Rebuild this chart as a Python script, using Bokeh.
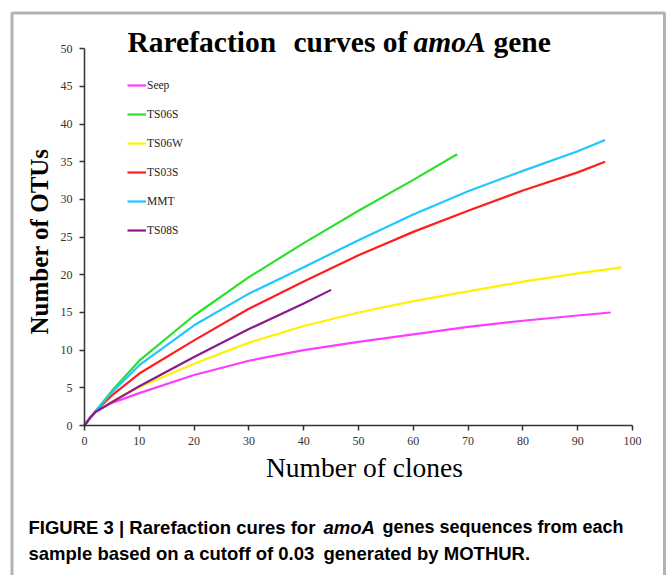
from bokeh.plotting import figure
from bokeh.models import (Range1d, FixedTicker, Label, Legend, LegendItem,
                          BoxAnnotation)
from bokeh.embed import file_html
from bokeh.resources import INLINE

# ---------------- data ----------------
x_ticks = [0, 10, 20, 30, 40, 50, 60, 70, 80, 90, 100]
y_ticks = [0, 5, 10, 15, 20, 25, 30, 35, 40, 45, 50]

seep_x = [0, 1, 2, 5, 10, 20, 30, 40, 50, 60, 70, 80, 90, 96]
seep_y = [0, 1, 1.8, 3.0, 4.3, 6.7, 8.6, 10.0, 11.1, 12.1, 13.1, 13.9, 14.6, 15.0]

ts06s_x = [0, 1, 2, 5, 10, 20, 30, 40, 50, 60, 68]
ts06s_y = [0, 1, 1.9, 4.6, 8.6, 14.6, 19.7, 24.2, 28.5, 32.6, 36.0]

ts06w_x = [0, 1, 2, 5, 10, 20, 30, 40, 50, 60, 70, 80, 90, 98]
ts06w_y = [0, 1, 1.8, 3.2, 5.1, 8.2, 11.0, 13.2, 15.0, 16.5, 17.8, 19.1, 20.2, 21.0]

ts03s_x = [0, 1, 2, 5, 10, 20, 30, 40, 50, 60, 70, 80, 90, 95]
ts03s_y = [0, 1, 1.9, 4.0, 6.9, 11.3, 15.5, 19.1, 22.6, 25.7, 28.5, 31.2, 33.6, 35.0]

mmt_x = [0, 1, 2, 5, 10, 20, 30, 40, 50, 60, 70, 80, 90, 95]
mmt_y = [0, 1, 1.9, 4.4, 8.0, 13.3, 17.5, 21.0, 24.6, 28.0, 31.1, 33.8, 36.4, 37.9]

ts08s_x = [0, 1, 2, 5, 10, 20, 30, 40, 45]
ts08s_y = [0, 1, 1.8, 3.1, 5.2, 9.1, 12.8, 16.2, 18.0]

series_names = ["Seep", "TS06S", "TS06W", "TS03S", "MMT", "TS08S"]
series_colors = ["#FF3CFF", "#2DE02D", "#FFF200", "#FF1E1E", "#1EC8FF", "#8B1A8B"]
series_x = [seep_x, ts06s_x, ts06w_x, ts03s_x, mmt_x, ts08s_x]
series_y = [seep_y, ts06s_y, ts06w_y, ts03s_y, mmt_y, ts08s_y]

# ---------------- layout ----------------
W, H = 670, 575
# canvas pixel positions of the data box (x 0..100, y 0..50)
PX0, PX1 = 84.0, 632.0
PY0, PY1 = 425.0, 48.3
kx = (PX1 - PX0) / 100.0
ky = (PY0 - PY1) / 50.0

SERIF = "Liberation Serif"
SANS = "Liberation Sans"


def sx(cx):
    return cx


def sy(cy):
    return H - cy


# the frame fills the whole canvas; axes are pinned at data 0
p = figure(width=W, height=H, output_backend="svg", toolbar_location=None,
           x_range=Range1d(-PX0 / kx, 100 + (W - PX1) / kx),
           y_range=Range1d(-(H - PY0) / ky, 50 + PY1 / ky))
p.min_border = 0
p.min_border_left = 0
p.min_border_right = 0
p.min_border_top = 0
p.min_border_bottom = 0
p.outline_line_color = None
p.xgrid.visible = False
p.ygrid.visible = False
p.background_fill_color = "white"
p.border_fill_color = "white"

for ax, ticks in ((p.xaxis[0], x_ticks), (p.yaxis[0], y_ticks)):
    ax.ticker = FixedTicker(ticks=ticks)
    ax.fixed_location = 0
    ax.bounds = (ticks[0], ticks[-1])
    ax.axis_line_color = "#333333"
    ax.axis_line_width = 1.5
    ax.major_tick_line_color = "#333333"
    ax.major_tick_line_width = 1.5
    ax.major_tick_out = 5
    ax.major_tick_in = 0
    ax.minor_tick_line_color = None
    ax.major_label_text_font = SERIF
    ax.major_label_text_font_size = "12px"
    ax.major_label_text_color = "#333333"
p.xaxis.major_label_standoff = 6
p.yaxis.major_label_standoff = 7

items = []
for name, col, xs, ys in zip(series_names, series_colors, series_x, series_y):
    r = p.line(xs, ys, line_color=col, line_width=2.2)
    items.append(LegendItem(label=name, renderers=[r]))

legend = Legend(items=items, location=(127, H - 240),
                glyph_width=19, glyph_height=20, label_height=20,
                label_standoff=1, spacing=9, padding=0, margin=0,
                border_line_color=None, background_fill_alpha=0,
                label_text_font=SERIF, label_text_font_size="11.5px",
                label_text_color="#222222")
p.add_layout(legend, "center")

# frame around the whole figure
p.add_layout(BoxAnnotation(left=sx(11.5), right=sx(664), top=sy(12.5), bottom=sy(600),
                           left_units="screen", right_units="screen",
                           top_units="screen", bottom_units="screen",
                           fill_alpha=0, line_color="black", line_width=3))


def lab(text, cx, cy, size, font=SERIF, style="normal", align="left",
        baseline="alphabetic", angle=0, color="black"):
    p.add_layout(Label(x=sx(cx), y=sy(cy), x_units="screen", y_units="screen",
                       text=text, text_font=font, text_font_size=size,
                       text_font_style=style, text_align=align,
                       text_baseline=baseline, angle=angle, text_color=color))


# title (mixed styles)
lab("Rarefaction", 127, 41, "29.5px", style="bold")
lab("curves of", 293, 41, "29.5px", style="bold")
lab("amoA", 413, 41, "29.5px", style="bold italic")
lab("gene", 493, 41, "29.5px", style="bold")

# axis titles
lab("Number of clones", 364, 467, "27.5px", align="center")
lab("Number of OTUs", 39, 241, "25px", style="bold", align="center",
    angle=1.5707963)

# caption
CAP = "18.5px"
lab("FIGURE 3 | Rarefaction cures for", 28, 526.5, CAP, font=SANS, style="bold")
lab("amoA", 323, 526.5, CAP, font=SANS, style="bold italic")
lab("genes sequences from each", 382, 526.5, "18px", font=SANS, style="bold")
lab("sample based on a cutoff of 0.03", 28, 552.5, CAP, font=SANS, style="bold")
lab("generated by MOTHUR.", 323, 552.5, CAP, font=SANS, style="bold")

open("out.html", "w").write(file_html(p, INLINE))
